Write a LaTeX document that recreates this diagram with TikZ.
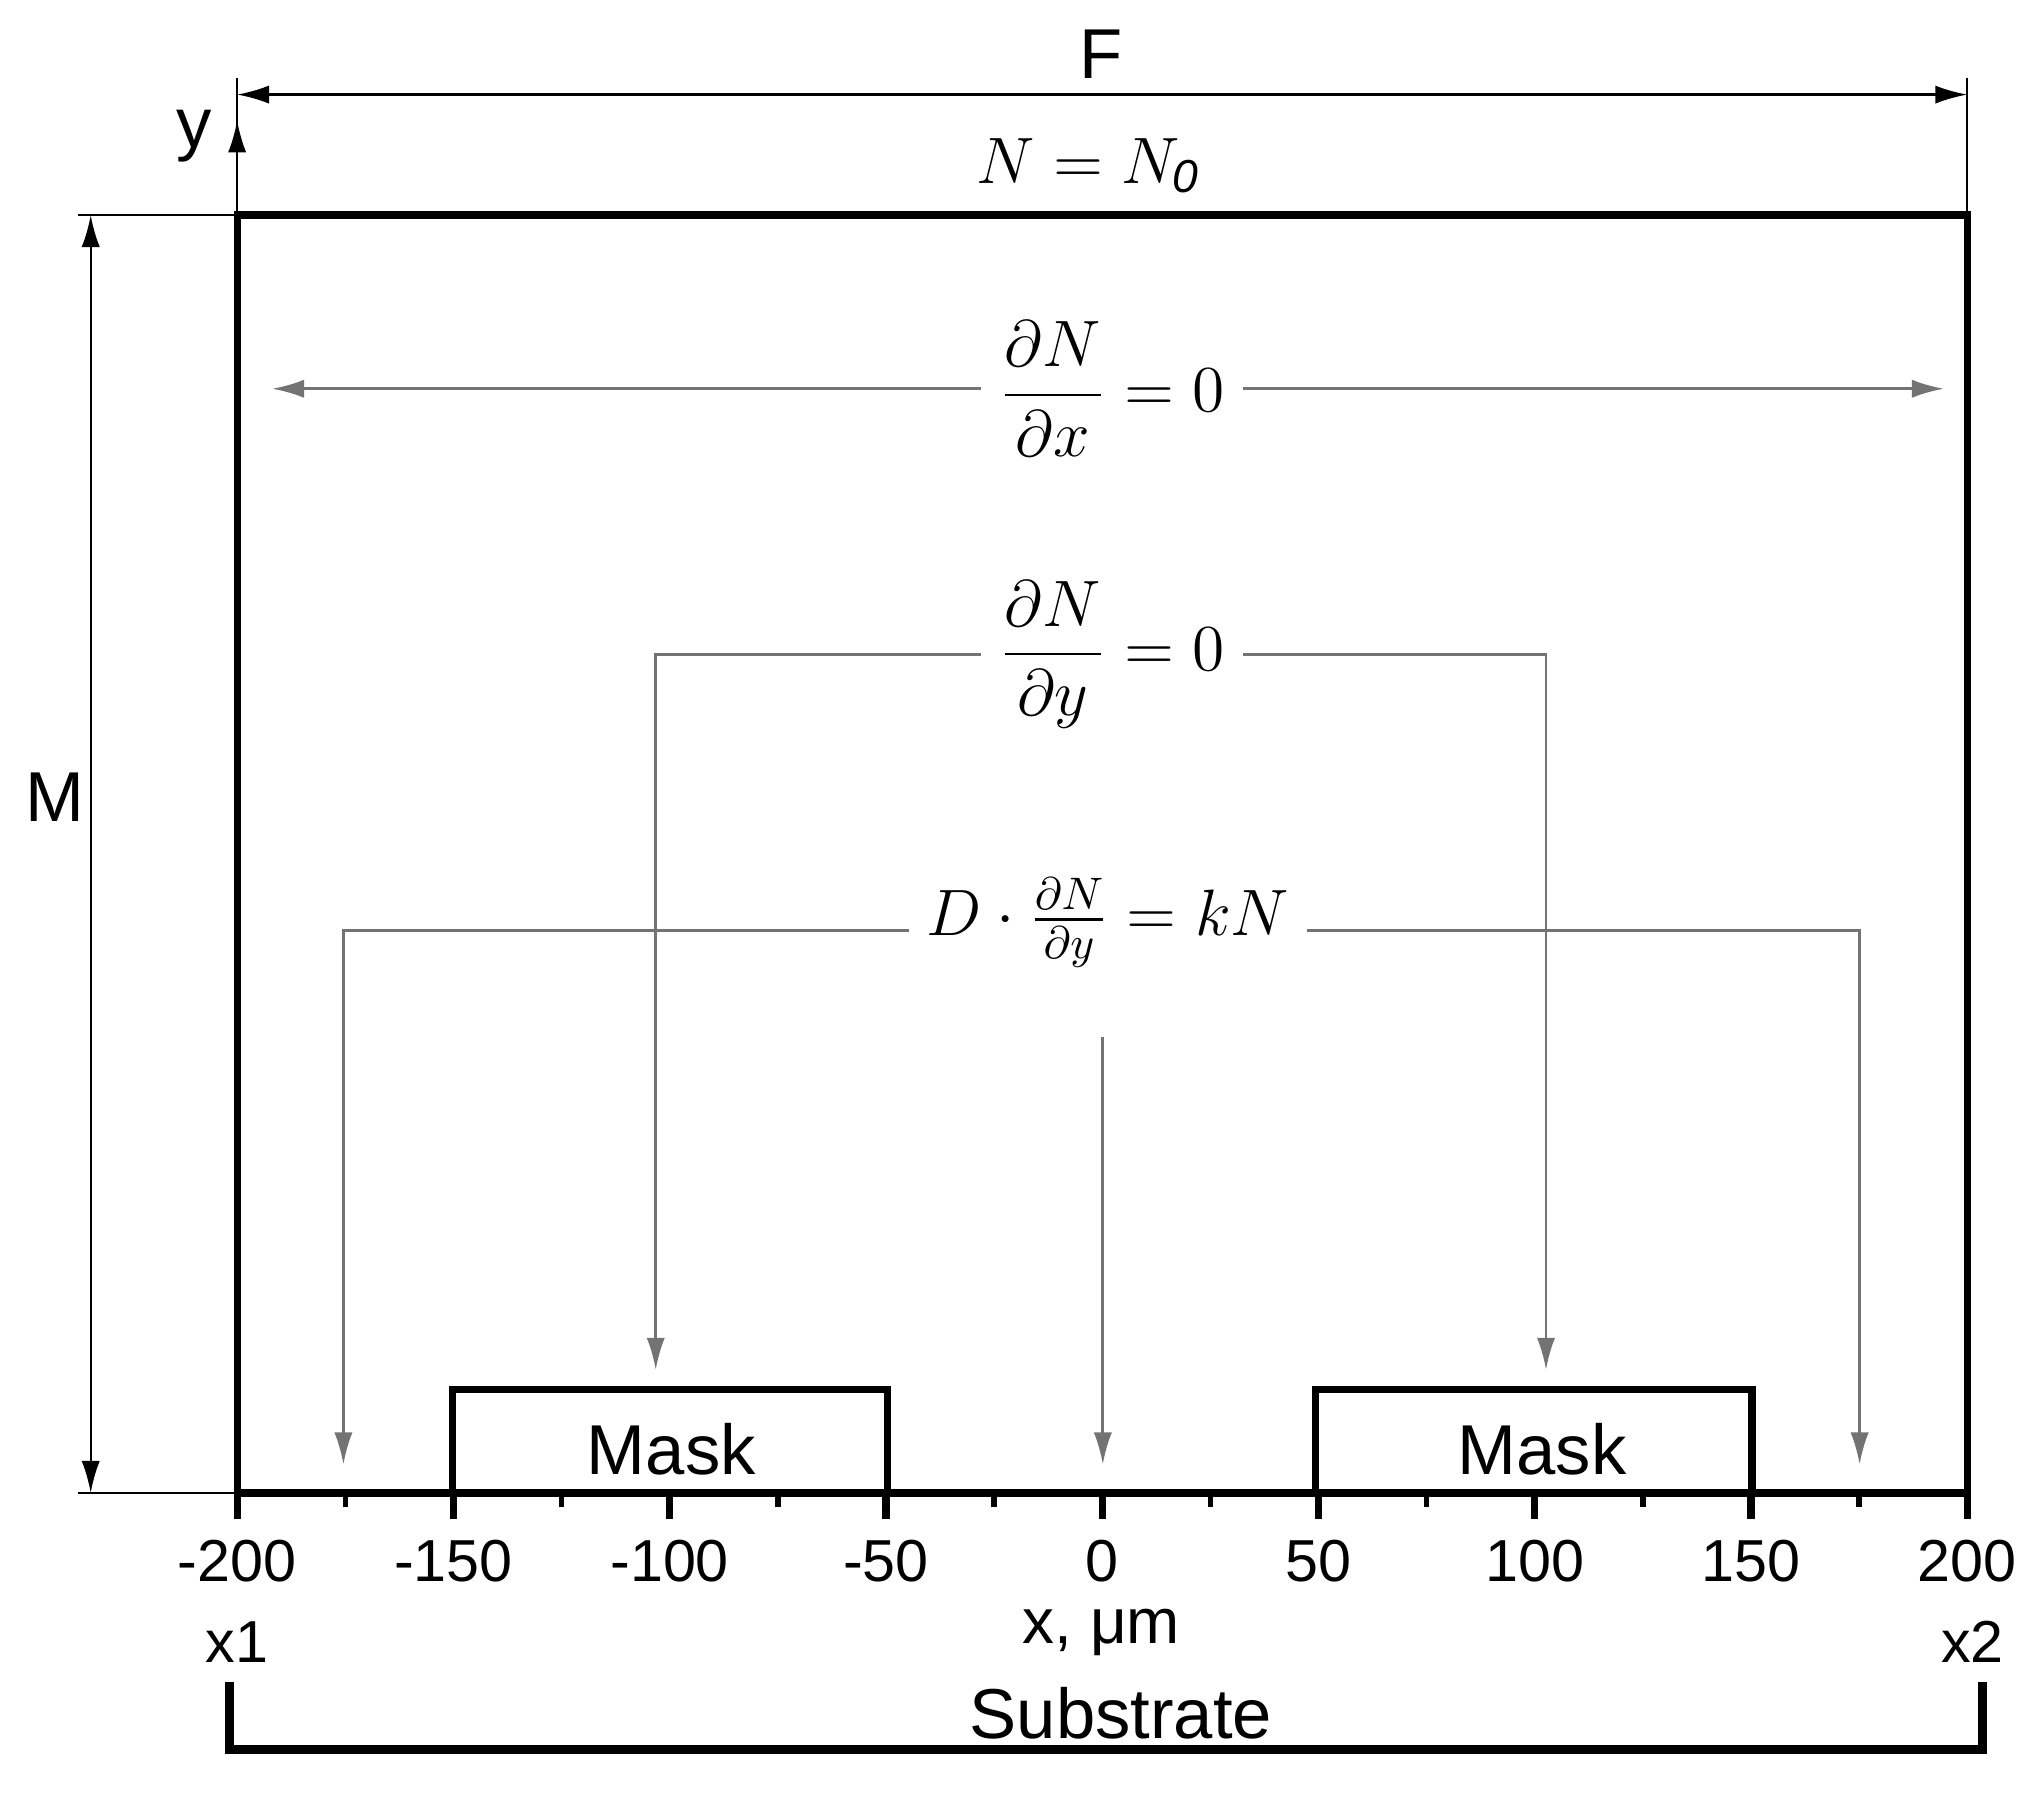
\documentclass[tikz,border=0pt]{standalone}
\usepackage{fontspec}
\setmainfont{Liberation Sans}
\usepackage{amsmath}
\usetikzlibrary{arrows.meta}
\begin{document}
\begin{tikzpicture}[x=0.01cm,y=-0.01cm,
  thick box/.style={line width=1.6pt},
  thin line/.style={line width=0.5pt},
  grey line/.style={line width=0.6pt,draw=black!55},
  arr/.style={-{Latex[length=7pt,width=4pt]}},
  lbl/.style={font=\fontsize{13}{15}\selectfont,inner sep=1pt},
  big/.style={font=\fontsize{15.5}{17}\selectfont,inner sep=1pt},
  eq/.style={font=\fontsize{14.5}{16}\selectfont,fill=white,inner sep=4pt}]
\useasboundingbox (0,0) rectangle (1568,1383);
% main box
\draw[thick box] (183,1152) -- (183,166) -- (1518,166) -- (1518,1152) -- cycle;
\draw[thick box] (349,1152) -- (349,1072) -- (685,1072) -- (685,1152);
\draw[thick box] (1015,1152) -- (1015,1072) -- (1352,1072) -- (1352,1152);
\node[big] (m1) at (518,1118) {Mask};
\node[big] (m2) at (1190,1118) {Mask};
% ticks
\foreach \i in {0,...,8}{\draw[thick box] ({183+\i*166.875},1152) -- ({183+\i*166.875},1172);}
\foreach \i in {0,...,7}{\draw[line width=1.2pt] ({183+83.44+\i*166.875},1152) -- ({183+83.44+\i*166.875},1163);}
\foreach \v [count=\i from 0] in {-200,-150,-100,-50,0,50,100,150,200}{
  \node[lbl] (t\i) at ({183+\i*166.875},1205) {\v};}
\node[lbl] (x1) at (183,1267) {x1};
\node[lbl] (x2) at (1522,1267) {x2};
\node[font=\fontsize{14}{16}\selectfont,inner sep=1pt] (xl) at (850,1260) {x, μm};
% substrate bracket
\draw[line width=2pt] (177,1298) -- (177,1350) -- (1530,1350) -- (1530,1298);
\node[big] (sub) at (865,1322) {Substrate};
% top dimension
\draw[thin line] (183,60) -- (183,166);
\draw[thin line] (1518,60) -- (1518,166);
\coordinate (fl) at (183,73); \coordinate (fr) at (1518,73);
\draw[thin line,arr] (850,73) -- (fl);
\draw[thin line,arr] (850,73) -- (fr);
\node[big] (F) at (850,42) {F};
\coordinate (ya) at (183,93);
\draw[thin line,arr] (183,166) -- (ya);
\node[big] (y) at (150,105) {y};
\node[font=\fontsize{14.5}{16}\selectfont] (N0) at (840,128) {$N = N_{\mathit{0}}$};
% M dimension
\draw[thin line] (60,166) -- (183,166);
\draw[thin line] (60,1152) -- (183,1152);
\coordinate (mt) at (70,166); \coordinate (mb) at (70,1152);
\draw[thin line,arr] (70,615) -- (mt);
\draw[thin line,arr] (70,615) -- (mb);
\node[big,fill=white] (M) at (42,615) {M};
% dN/dx
\coordinate (dxl) at (210,300); \coordinate (dxr) at (1500,300);
\draw[grey line,arr] (860,300) -- (dxl);
\draw[grey line,arr] (860,300) -- (dxr);
\node[eq] (ex) at (858,300) {$\displaystyle\frac{\partial N}{\partial x} = 0$};
% dN/dy
\coordinate (a1) at (506,1057); \coordinate (a2) at (1193,1057);
\draw[grey line,arr] (860,505) -| (a1);
\draw[grey line,arr] (860,505) -| (a2);
\node[eq] (ey) at (858,505) {$\displaystyle\frac{\partial N}{\partial y} = 0$};
% Robin
\coordinate (b1) at (265,1130); \coordinate (b2) at (1435,1130);
\coordinate (b0) at (851,800); \coordinate (b3) at (851,1130);
\draw[grey line,arr] (855,718) -| (b1);
\draw[grey line,arr] (855,718) -| (b2);
\draw[grey line,arr] (b0) -- (b3);
\node[eq] (ek) at (855,712) {$D\cdot\frac{\partial N}{\partial y} = kN$};
\end{tikzpicture}
\end{document}
